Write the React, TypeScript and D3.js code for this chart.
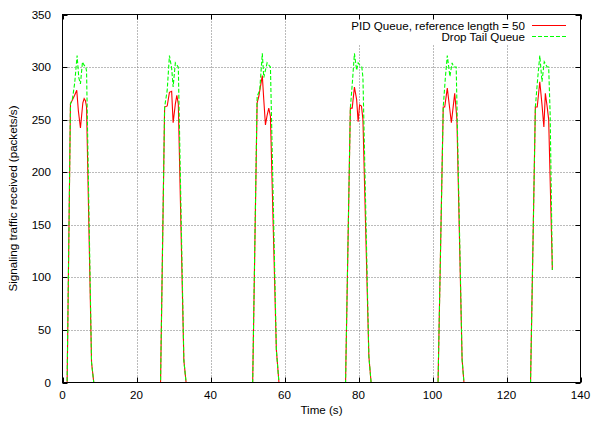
import React from "react";
import * as d3 from "d3";

const xTicks = [0, 20, 40, 60, 80, 100, 120, 140];
const yTicks = [0, 50, 100, 150, 200, 250, 300, 350];

const pidTime = [
  0, 1.25, 2.15, 2.7, 3.25, 3.85, 4.3, 4.85, 5.5, 5.85, 6.2, 6.5, 7.85, 8.45,
  26.5, 27.6, 28.3, 28.9, 29.5, 29.9, 30.5, 30.9, 31.3, 32.8, 33.4,
  51.4, 52.6, 53.05, 54.0, 54.4, 54.85, 55.3, 55.75, 56.2, 57.8, 58.5,
  76.5, 77.8, 78.3, 78.9, 79.5, 79.9, 80.3, 80.8, 81.2, 82.8, 83.4,
  101.5, 102.9, 103.3, 104.0, 104.6, 105.1, 106.0, 106.4, 106.6, 108.0, 108.5,
  126.5, 127.8, 128.3, 129.0, 129.6, 130.1, 130.5, 131.0, 131.4, 132.4,
];
const pidValue = [
  0, 0, 265, 269, 273, 278, 258, 242, 266, 270, 268, 262, 19, 0,
  0, 262, 263, 276, 277, 247, 265, 273, 265, 21, 0,
  0, 266, 272, 292, 269, 245, 254, 261, 253, 31, 0,
  0, 261, 261, 281, 269, 248, 264, 263, 250, 25, 0,
  0, 262, 262, 280, 262, 247, 275, 259, 250, 22, 0,
  0, 262, 262, 286, 264, 243, 275, 262, 250, 107,
];

const dropTime = [
  0, 1.25, 2.15, 2.7, 3.3, 3.95, 4.4, 4.85, 5.4, 5.8, 6.3, 6.5, 7.85, 8.45,
  26.5, 27.6, 28.3, 28.9, 29.5, 29.9, 30.5, 31.3, 32.8, 33.4,
  51.4, 52.6, 53.3, 54.0, 54.4, 55.3, 56.2, 57.8, 58.5,
  76.5, 77.8, 78.4, 78.9, 79.5, 79.9, 80.3, 80.9, 81.2, 82.8, 83.4,
  101.5, 102.9, 103.5, 104.0, 104.7, 105.3, 105.7, 106.4, 108.0, 108.5,
  126.5, 127.8, 128.4, 129.0, 129.6, 130.2, 131.0, 131.4, 131.8, 132.4,
];
const dropValue = [
  0, 0, 265, 270, 285, 311, 290, 284, 305, 302, 300, 296, 19, 0,
  0, 262, 278, 311, 299, 281, 304, 300, 21, 0,
  0, 272, 278, 313, 290, 304, 300, 31, 0,
  0, 261, 288, 313, 297, 304, 302, 300, 290, 25, 0,
  0, 262, 291, 311, 291, 304, 300, 300, 22, 0,
  0, 262, 288, 311, 286, 305, 300, 300, 255, 107,
];

const seriesNames = ["PID Queue, reference length = 50", "Drop Tail Queue"];

const W = 591;
const H = 424;
const L = 62.5;
const R = 580.5;
const T = 14.5;
const B = 382.5;
const FONT = "'Liberation Sans', Arial, Helvetica, sans-serif";

export default function App() {
  const x = d3.scaleLinear().domain([0, 140]).range([L, R]);
  const y = d3.scaleLinear().domain([0, 350]).range([B, T]);
  const line = d3
    .line<[number, number]>()
    .x((d) => x(d[0]))
    .y((d) => y(d[1]));
  const pid: [number, number][] = pidTime.map((t, i) => [t, pidValue[i]]);
  const drop: [number, number][] = dropTime.map((t, i) => [t, dropValue[i]]);
  const keyLeft = 345;
  const keyBottom = 45;
  const tl = 5;

  return (
    <svg
      width={W}
      height={H}
      style={{ position: "absolute", left: 0, top: 0, background: "#fff" }}
      fontFamily={FONT}
      fontSize={11.6}
    >
      <rect x={0} y={0} width={W} height={H} fill="#fff" />
      {/* grid */}
      {xTicks.slice(1, -1).map((t) => (
        <line
          key={"gx" + t}
          x1={Math.round(x(t)) + 0.5}
          x2={Math.round(x(t)) + 0.5}
          y1={B}
          y2={x(t) > keyLeft ? keyBottom : T}
          stroke="#777"
          strokeDasharray="1,2"
        />
      ))}
      {yTicks.slice(1, -1).map((t) => (
        <line
          key={"gy" + t}
          x1={L}
          x2={R}
          y1={Math.round(y(t)) + 0.5}
          y2={Math.round(y(t)) + 0.5}
          stroke="#777"
          strokeDasharray="1,2"
        />
      ))}
      {/* ticks */}
      {xTicks.map((t) => (
        <g key={"tx" + t}>
          <line x1={Math.round(x(t)) + 0.5} x2={Math.round(x(t)) + 0.5} y1={B} y2={B - tl} stroke="#000" />
          <line x1={Math.round(x(t)) + 0.5} x2={Math.round(x(t)) + 0.5} y1={T} y2={T + tl} stroke="#000" />
          <text x={x(t)} y={399} textAnchor="middle" fill="#000">
            {t}
          </text>
        </g>
      ))}
      {yTicks.map((t) => (
        <g key={"ty" + t}>
          <line x1={L} x2={L + tl} y1={Math.round(y(t)) + 0.5} y2={Math.round(y(t)) + 0.5} stroke="#000" />
          <line x1={R} x2={R - tl} y1={Math.round(y(t)) + 0.5} y2={Math.round(y(t)) + 0.5} stroke="#000" />
          <text x={51} y={y(t) + 4} textAnchor="end" fill="#000">
            {t}
          </text>
        </g>
      ))}
      {/* data */}
      <path d={line(pid) || ""} fill="none" stroke="#ff0000" strokeWidth={1.1} />
      <path d={line(drop) || ""} fill="none" stroke="#00ff00" strokeWidth={1.1} strokeDasharray="4,2" />
      {/* border */}
      <rect x={L} y={T} width={R - L} height={B - T} fill="none" stroke="#000" strokeWidth={1} />
      {/* axis labels */}
      <text x={(L + R) / 2} y={414} textAnchor="middle" fill="#000">
        Time (s)
      </text>
      <text
        transform={`translate(17, ${(T + B) / 2}) rotate(-90)`}
        textAnchor="middle"
        fill="#000"
      >
        Signaling traffic received (packets/s)
      </text>
      {/* legend */}
      <text x={525} y={29.5} textAnchor="end" fill="#000">
        {seriesNames[0]}
      </text>
      <line x1={532} x2={566} y1={25.5} y2={25.5} stroke="#ff0000" strokeWidth={1.2} />
      <text x={525} y={41} textAnchor="end" fill="#000">
        {seriesNames[1]}
      </text>
      <line x1={532} x2={566} y1={36.5} y2={36.5} stroke="#00ff00" strokeWidth={1.2} strokeDasharray="4,2" />
    </svg>
  );
}
